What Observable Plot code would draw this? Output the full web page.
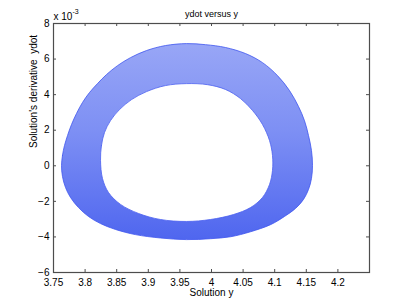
<!DOCTYPE html>
<html>
<head>
<meta charset="utf-8">
<script src="https://cdn.jsdelivr.net/npm/d3@7"></script>
<script src="https://cdn.jsdelivr.net/npm/@observablehq/plot@0.6"></script>
<style>
  html, body { margin: 0; padding: 0; background: #fff; }
  #chart { width: 407px; height: 306px; }
</style>
</head>
<body>
<div id="chart"></div>
<script>
// y (Solution y) and ydot (in units of 1e-3): outermost and innermost loops
const outerY    = [3.7627, 3.7642, 3.7674, 3.7722, 3.7785, 3.7864, 3.7959, 3.8070, 3.8196, 3.8339, 3.8513, 3.8718, 3.8972, 3.9272, 3.9604, 3.9905, 4.0222, 4.0538, 4.0807, 4.1044, 4.1234, 4.1377, 4.1472, 4.1535, 4.1582, 4.1598, 4.1582, 4.1535, 4.1456, 4.1329, 4.1155, 4.0934, 4.0617, 4.0301, 3.9984, 3.9604, 3.9193, 3.8797, 3.8481, 3.8244, 3.8054, 3.7896, 3.7769, 3.7690, 3.7642];
const outerYdot = [0.02, 0.58, 1.14, 1.70, 2.32, 2.94, 3.56, 4.12, 4.62, 5.13, 5.63, 6.08, 6.48, 6.76, 6.87, 6.81, 6.65, 6.31, 5.80, 5.07, 4.23, 3.33, 2.53, 1.70, 0.86, 0.02, -0.71, -1.33, -1.89, -2.40, -2.85, -3.31, -3.71, -3.99, -4.10, -4.15, -4.06, -3.87, -3.58, -3.25, -2.85, -2.35, -1.78, -1.22, -0.60];
const innerY    = [3.8244, 3.8259, 3.8307, 3.8402, 3.8544, 3.8734, 3.8972, 3.9272, 3.9604, 3.9937, 4.0222, 4.0459, 4.0649, 4.0807, 4.0918, 4.0965, 4.0965, 4.0918, 4.0807, 4.0617, 4.0348, 3.9984, 3.9604, 3.9193, 3.8845, 3.8560, 3.8370, 3.8275];
const innerYdot = [0.30, 1.14, 1.87, 2.54, 3.16, 3.72, 4.17, 4.51, 4.62, 4.56, 4.29, 3.78, 3.11, 2.32, 1.42, 0.58, -0.26, -1.05, -1.78, -2.35, -2.74, -3.02, -3.13, -3.02, -2.68, -2.17, -1.50, -0.71];

const xTicks = [3.75, 3.8, 3.85, 3.9, 3.95, 4, 4.05, 4.1, 4.15, 4.2];
const xTickLabels = ["3.75", "3.8", "3.85", "3.9", "3.95", "4", "4.05", "4.1", "4.15", "4.2"];
const yTicks = [-6, -4, -2, 0, 2, 4, 6, 8];
const yTickLabels = ["\u22126", "\u22124", "\u22122", "0", "2", "4", "6", "8"];

const titleText = "ydot versus y";
const xLabel = "Solution y";
const yLabel = "Solution's derivative  ydot";
const exponentBase = "x 10";
const exponentPower = "-3";

const outer = outerY.map((y, i) => ({y, ydot: outerYdot[i]}));
const inner = innerY.map((y, i) => ({y, ydot: innerYdot[i]}));

const W = 407, H = 306;
const mL = 53, mR = 38, mT = 23, mB = 34;
const innerW = W - mL - mR, innerH = H - mT - mB;
const tickLen = 3;
const font = "'Liberation Sans', Arial, Helvetica, sans-serif";
const axisColor = "#4d4d4d";

const svg = Plot.plot({
  width: W, height: H,
  marginLeft: mL, marginRight: mR, marginTop: mT, marginBottom: mB,
  style: {fontFamily: font, fontSize: "10px", background: "#fff", color: "#000"},
  x: {domain: [3.75, 4.25], axis: null},
  y: {domain: [-6, 8], axis: null},
  marks: [
    Plot.line(outer, {x: "y", y: "ydot", curve: "catmull-rom-closed", fill: "url(#bandGrad)", stroke: "#3f55ef", strokeWidth: 0.8}),
    Plot.line(inner, {x: "y", y: "ydot", curve: "catmull-rom-closed", fill: "#fff", stroke: "#4a5ff0", strokeWidth: 0.8}),
    Plot.frame({stroke: axisColor, strokeWidth: 1.2}),
    Plot.tickX(xTicks, {x: d => d, insetTop: innerH - tickLen, stroke: axisColor}),
    Plot.tickX(xTicks, {x: d => d, insetBottom: innerH - tickLen, stroke: axisColor}),
    Plot.tickY(yTicks, {y: d => d, insetRight: innerW - tickLen, stroke: axisColor}),
    Plot.tickY(yTicks, {y: d => d, insetLeft: innerW - tickLen, stroke: axisColor}),
    Plot.axisX(xTicks, {anchor: "bottom", tickSize: 0, tickPadding: 6, tickFormat: (d, i) => xTickLabels[i], fontSize: 10, label: null}),
    Plot.axisY(yTicks, {anchor: "left", tickSize: 0, tickPadding: 4, tickFormat: (d, i) => yTickLabels[i], fontSize: 10, label: null}),
    Plot.text([titleText], {frameAnchor: "top", dy: -9.7, text: d => d, fontSize: 9, lineAnchor: "middle"}),
    Plot.text([xLabel], {frameAnchor: "bottom", dy: 20.5, text: d => d, fontSize: 10, lineAnchor: "middle"}),
    Plot.text([yLabel], {frameAnchor: "left", dx: -20, rotate: -90, text: d => d, fontSize: 10, lineAnchor: "middle"}),
    Plot.text([exponentBase], {frameAnchor: "top-left", dy: -7.2, dx: 0, text: d => d, fontSize: 10, textAnchor: "start", lineAnchor: "middle"}),
    Plot.text([exponentPower], {frameAnchor: "top-left", dy: -11.7, dx: 19, text: d => d, fontSize: 7, textAnchor: "start", lineAnchor: "middle"})
  ]
});

const defs = d3.select(svg).insert("defs", ":first-child");
const grad = defs.append("linearGradient").attr("id", "bandGrad")
  .attr("x1", 0).attr("y1", 0).attr("x2", 0).attr("y2", 1);
grad.append("stop").attr("offset", "0%").attr("stop-color", "#98a6f6");
grad.append("stop").attr("offset", "45%").attr("stop-color", "#7d8ff4");
grad.append("stop").attr("offset", "100%").attr("stop-color", "#4f66ef");

document.getElementById("chart").appendChild(svg);
</script>
</body>
</html>
